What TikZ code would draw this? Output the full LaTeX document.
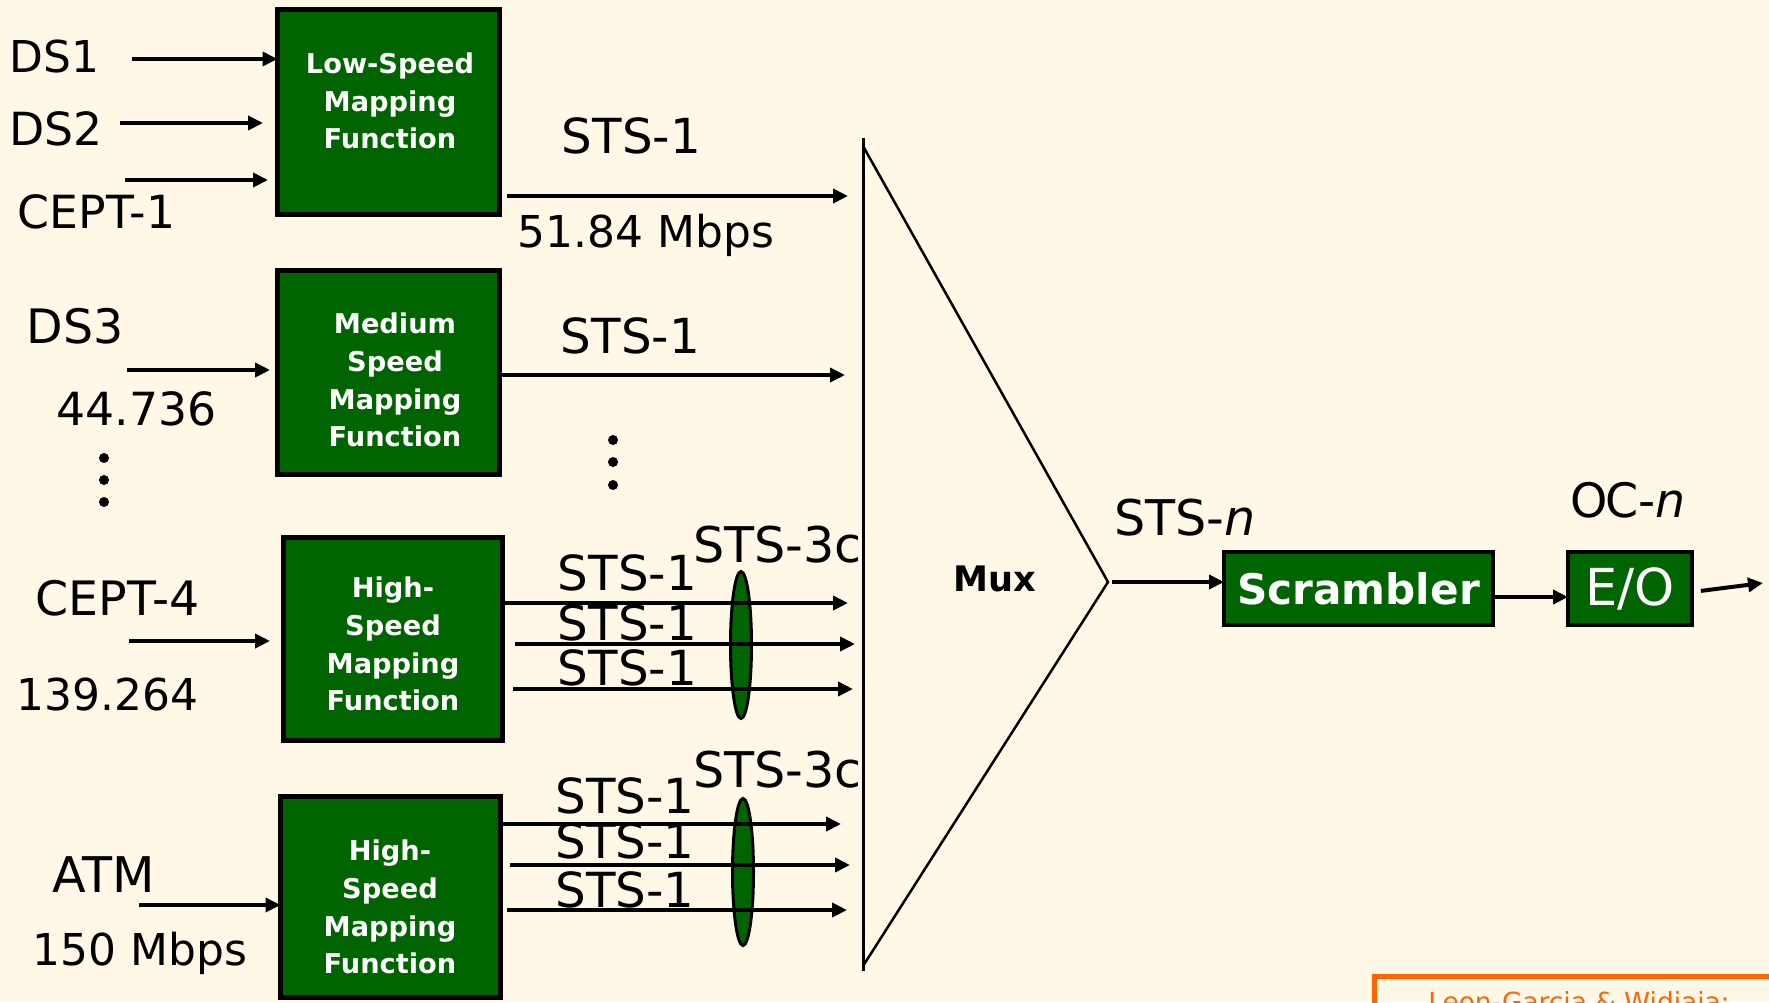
\documentclass[tikz,border=0pt]{standalone}
\usepackage{fontspec}
\setmainfont{DejaVu Sans}
\usetikzlibrary{arrows.meta,shapes.geometric}
\definecolor{bg}{HTML}{FFF8E6}
\definecolor{boxgreen}{HTML}{006400}
\definecolor{orng}{HTML}{FF6600}
\newcommand\fsz[1]{\fontsize{#1}{#1}\selectfont}
\tikzset{
  lbl/.style={inner sep=0, anchor=base, font=\fsz{#1}},
  lbl/.default=27,
  mapbox/.style={rectangle, draw=black, line width=0.1cm, fill=boxgreen, inner sep=0, outer sep=0},
  boxtxt/.style={text=white, font=\bfseries\fontsize{15.5}{21.5}\selectfont, align=center, inner sep=0},
  arr/.style={line width=0.08cm, -{Triangle[length=0.3cm,width=0.28cm]}},
  grp/.style={ellipse, draw=black, line width=0.06cm, fill=boxgreen, inner sep=0, outer sep=0,
    minimum width=0.42cm, minimum height=2.94cm},
  muxline/.style={line width=0.05cm, line cap=round},
}
\begin{document}
\begin{tikzpicture}[x=0.02cm,y=-0.02cm]
\useasboundingbox (0,0) rectangle (1769,1002);
\clip (0,0) rectangle (1769,1002);
\fill[bg] (0,0) rectangle (1769,1002);

% Mux triangle
\coordinate (mtop) at (863,138);
\coordinate (mbot) at (863,971);
\coordinate (mdtop) at (863,146);
\coordinate (mdbot) at (863,966);
\coordinate (apex) at (1108,582);
\draw[line width=0.06cm] (mtop) -- (mbot);
\draw[muxline] (mdtop) -- (apex) -- (mdbot);
\node[inner sep=0, font=\bfseries\fsz{20}] (muxlbl) at (995,579) {Mux};

% STS-3c groupings
\node[grp] (g1) at (741,645) {};
\node[grp] (g2) at (743,872) {};

% mapping boxes
\node[mapbox, minimum width=4.44cm, minimum height=4.10cm] (b1) at (388.5,112) {};
\node[mapbox, minimum width=4.44cm, minimum height=4.08cm] (b2) at (388.5,372.5) {};
\node[mapbox, minimum width=4.38cm, minimum height=4.06cm] (b3) at (393,639) {};
\node[mapbox, minimum width=4.40cm, minimum height=4.02cm] (b4) at (390.5,897) {};
\node[boxtxt] (b1t) at (390,101) {Low-Speed\\Mapping\\Function};
\node[boxtxt] (b2t) at (395,380) {Medium\\Speed\\Mapping\\Function};
\node[boxtxt] (b3t) at (393,644) {High-\\Speed\\Mapping\\Function};
\node[boxtxt] (b4t) at (390,907) {High-\\Speed\\Mapping\\Function};

% scrambler and E/O
\node[mapbox, line width=0.09cm, minimum width=5.38cm, minimum height=1.46cm,
      text=white, font=\bfseries\fsz{24}] (scr) at (1358.5,588.5) {Scrambler};
\node[mapbox, line width=0.09cm, minimum width=2.48cm, minimum height=1.46cm,
      text=white, font=\fsz{29}] (eo) at (1630,588.5) {E/O};

% input arrows
\coordinate (i1) at (132,59);
\coordinate (i2) at (120,123);
\coordinate (i3) at (125,180);
\coordinate (i4) at (127,370);
\coordinate (i5) at (129,641);
\coordinate (i6) at (139,905);
\draw[arr] (i1) -- (i1 -| b1.west);
\draw[arr, shorten >=0.29cm] (i2) -- (i2 -| b1.west);
\draw[arr, shorten >=0.19cm] (i3) -- (i3 -| b1.west);
\draw[arr, shorten >=0.15cm] (i4) -- (i4 -| b2.west);
\draw[arr, shorten >=0.27cm] (i5) -- (i5 -| b3.west);
\draw[arr] (i6) -- (i6 -| b4.west);

% output arrows to mux
\coordinate (o1) at (848,196);
\coordinate (o2) at (845,375);
\coordinate (o3) at (848,603);
\coordinate (o4) at (855,644);
\coordinate (o5) at (853,689);
\coordinate (o6) at (841,824);
\coordinate (o7) at (850,865);
\coordinate (o8) at (847,910);
\draw[arr, shorten <=0.15cm] (o1 -| b1.east) -- (o1);
\draw[arr, shorten <=0.05cm] (o2 -| b2.east) -- (o2);
\draw[arr, shorten <=0.05cm] (o3 -| b3.east) -- (o3);
\draw[arr, shorten <=0.25cm] (o4 -| b3.east) -- (o4);
\draw[arr, shorten <=0.21cm] (o5 -| b3.east) -- (o5);
\draw[arr, shorten <=0.05cm] (o6 -| b4.east) -- (o6);
\draw[arr, shorten <=0.19cm] (o7 -| b4.east) -- (o7);
\draw[arr, shorten <=0.13cm] (o8 -| b4.east) -- (o8);

% mux output chain
\draw[arr, shorten <=0.08cm] (apex) -- (apex -| scr.west);
\draw[arr] ([yshift=-0.17cm]scr.east) -- ([yshift=-0.17cm]eo.west);
\coordinate (out) at (1763,583);
\draw[arr, shorten <=0.18cm] ([yshift=-0.07cm]eo.east) -- (out);

% left labels
\node[lbl=25] (ds1) at (54.5,72) {DS1};
\node[lbl=26] (ds2) at (56,145) {DS2};
\node[lbl=26] (cept1) at (96.5,228) {CEPT-1};
\node[lbl=27] (ds3) at (75,343) {DS3};
\node[lbl=26] (r3) at (136.5,425) {44.736};
\node[lbl=27] (cept4) at (117.5,615) {CEPT-4};
\node[lbl=25] (r4) at (107.5,710) {139.264};
\node[lbl=28] (atm) at (103.5,892) {ATM};
\node[lbl=25] (ratm) at (140,965) {150 Mbps};
\fill (104,458) circle[radius=0.1cm] (104,480) circle[radius=0.1cm] (104,502) circle[radius=0.1cm];

% middle labels
\node[lbl=27.5] (s1) at (631.5,153) {STS-1};
\node[lbl=25] (r1) at (646,247) {51.84 Mbps};
\node[lbl=27.5] (s2) at (630.5,353) {STS-1};
\fill (613,440) circle[radius=0.1cm] (613,462) circle[radius=0.1cm] (613,485) circle[radius=0.1cm];
\node[lbl=27.5] (s3a) at (627.5,590) {STS-1};
\node[lbl=27.5] (s3b) at (627.5,640) {STS-1};
\node[lbl=27.5] (s3c) at (627.5,685) {STS-1};
\node[lbl=28] (c3) at (777.5,562) {STS-3c};
\node[lbl=27.5] (s4a) at (625,813) {STS-1};
\node[lbl=27.5] (s4b) at (625,858) {STS-1};
\node[lbl=27.5] (s4c) at (625,907) {STS-1};
\node[lbl=28] (c4) at (777.5,787) {STS-3c};

% right labels
\node[lbl=28] (stsn) at (1185,535) {STS-{\itshape n}};
\node[lbl=27] (ocn) at (1628,517) {O{\kern-0.04em}C-{\itshape n}};

% credit box (cut off by the page edge)
\draw[orng, line width=0.1cm] (1374.5,1100) -- (1374.5,976.5) -- (1800,976.5);
\node[inner sep=0, anchor=base west, text=orng, font=\fsz{15}] (credit) at (1428,1011) {Leon-Garcia \& Widjaja:};
\end{tikzpicture}
\end{document}
